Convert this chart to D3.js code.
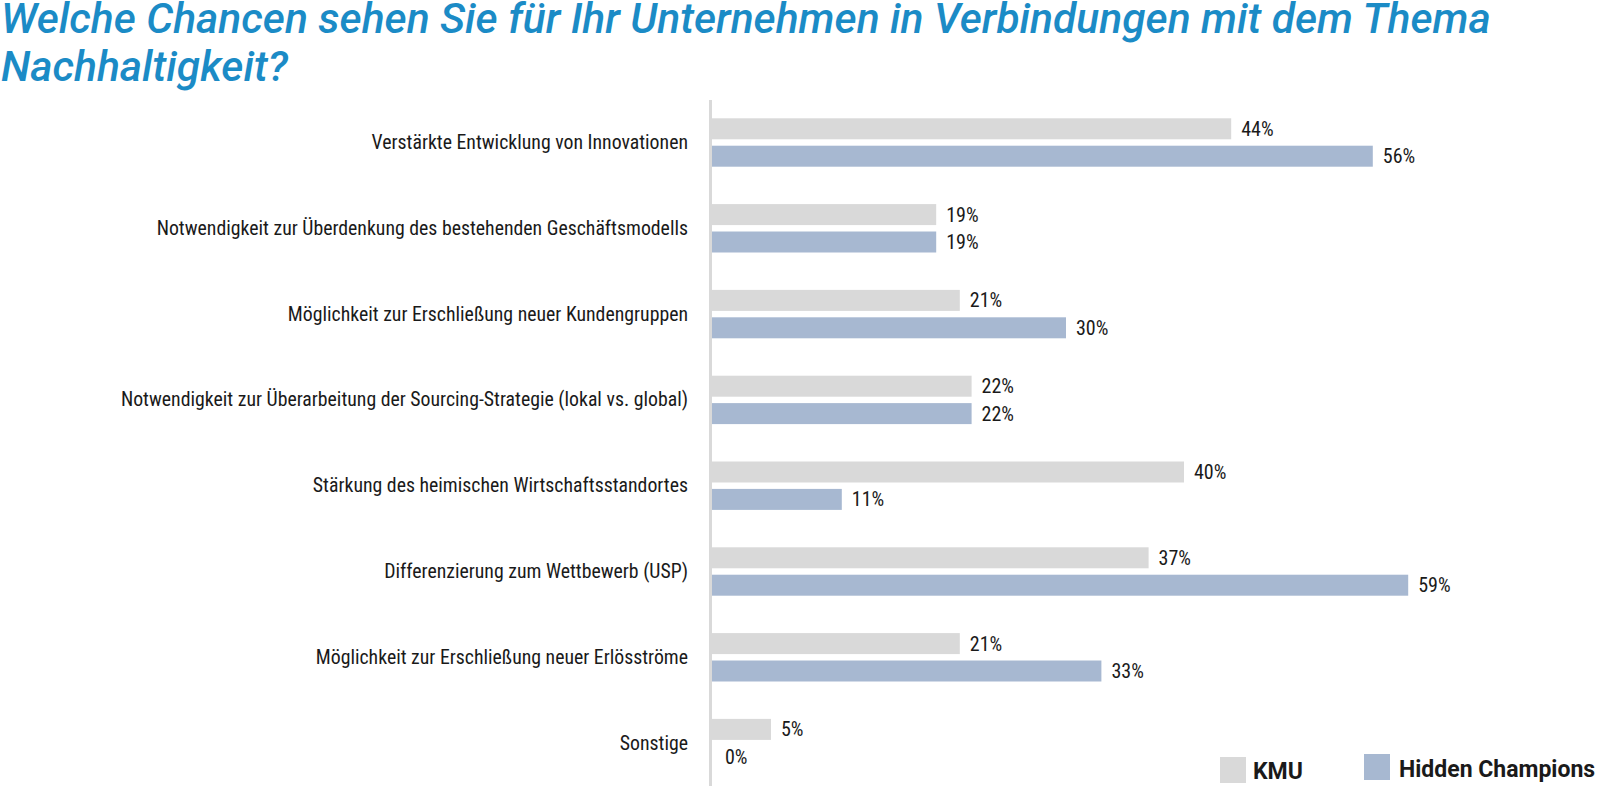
<!DOCTYPE html>
<html>
<head>
<meta charset="utf-8">
<script src="https://cdn.jsdelivr.net/npm/d3@7"></script>
<style>
html,body{margin:0;padding:0;background:#fff;}
svg{display:block;}
</style>
</head>
<body>
<svg id="chart" width="1600" height="786"></svg>
<script>
const titleLines = ["Welche Chancen sehen Sie für Ihr Unternehmen in Verbindungen mit dem Thema", "Nachhaltigkeit?"];
const categories = [
  "Verstärkte Entwicklung von Innovationen",
  "Notwendigkeit zur Überdenkung des bestehenden Geschäftsmodells",
  "Möglichkeit zur Erschließung neuer Kundengruppen",
  "Notwendigkeit zur Überarbeitung der Sourcing-Strategie (lokal vs. global)",
  "Stärkung des heimischen Wirtschaftsstandortes",
  "Differenzierung zum Wettbewerb (USP)",
  "Möglichkeit zur Erschließung neuer Erlösströme",
  "Sonstige"
];
const seriesNames = ["KMU", "Hidden Champions"];
const kmuValues = [44, 19, 21, 22, 40, 37, 21, 5];
const hcValues  = [56, 19, 30, 22, 11, 59, 33, 0];
const seriesColors = ["#d9d9d9", "#a7b8d1"];

const svg = d3.select("#chart");
const labelFont = "'Liberation Sans Narrow', 'Roboto Condensed', 'Arial Narrow', sans-serif";

// Title
const titles = svg.selectAll("text.title").data(titleLines).join("text")
  .attr("class", "title")
  .attr("x", 1)
  .attr("y", (d, i) => 33 + i * 48)
  .attr("fill", "#1b8bc6")
  .style("font-family", "Roboto, sans-serif")
  .style("font-style", "italic")
  .style("font-weight", 500)
  .style("font-size", "42px")
  .text(d => d);
// fit first line to the reference's width by font size
const t0 = titles.filter((d, i) => i === 0).node();
const len0 = t0.getComputedTextLength();
const fs = Math.min(44, 42 * 1490 / len0);
titles.style("font-size", fs + "px");

// Scales
const x = d3.scaleLinear().domain([0, 60]).range([712, 712 + 60 * 11.8]);
const y = d3.scaleBand().domain(categories)
  .range([118.3, 118.3 + 7 * 85.8 + 48.4])
  .paddingInner(1 - 48.4 / 85.8).paddingOuter(0);
const ySub = d3.scaleBand().domain(seriesNames).range([0, y.bandwidth()]).paddingInner(0.234);
const color = d3.scaleOrdinal().domain(seriesNames).range(seriesColors);

const rows = categories.map((c, i) => ({cat: c, vals: [
  {s: seriesNames[0], v: kmuValues[i]},
  {s: seriesNames[1], v: hcValues[i]}
]}));

// Axis line
svg.append("line")
  .attr("x1", x(0) - 1.5).attr("x2", x(0) - 1.5)
  .attr("y1", 100).attr("y2", 786)
  .attr("stroke", "#d9d9d9").attr("stroke-width", 3);

// Category labels
svg.selectAll("text.cat").data(categories).join("text")
  .attr("class", "cat")
  .attr("x", 688)
  .attr("y", d => y(d) + y.bandwidth() / 2 + 6.5)
  .attr("text-anchor", "end")
  .attr("fill", "#1a1a1a")
  .style("font-family", labelFont)
  .style("font-size", "19.8px")
  .text(d => d);

const g = svg.selectAll("g.row").data(rows).join("g")
  .attr("class", "row")
  .attr("transform", d => `translate(0,${y(d.cat)})`);

g.selectAll("rect").data(d => d.vals).join("rect")
  .attr("x", x(0))
  .attr("y", d => ySub(d.s))
  .attr("width", d => x(d.v) - x(0))
  .attr("height", ySub.bandwidth())
  .attr("fill", d => color(d.s));

g.selectAll("text.val").data(d => d.vals).join("text")
  .attr("class", "val")
  .attr("x", d => x(d.v) + (d.v === 0 ? 13 : 10))
  .attr("y", d => ySub(d.s) + ySub.bandwidth() / 2 + 7)
  .attr("fill", "#1a1a1a")
  .style("font-family", labelFont)
  .style("font-size", "20px")
  .text(d => d.v + "%");

// Legend
const legendX = [1220, 1364];
const legendY = [757, 754];
const leg = svg.selectAll("g.leg").data(seriesNames).join("g")
  .attr("class", "leg")
  .attr("transform", (d, i) => `translate(${legendX[i]},${legendY[i]})`);
leg.append("rect").attr("width", 26).attr("height", 26).attr("fill", d => color(d));
leg.append("text")
  .attr("x", (d, i) => i === 0 ? 33 : 35)
  .attr("y", (d, i) => i === 0 ? 21.5 : 23)
  .attr("fill", "#1a1a1a")
  .style("font-family", "Roboto, sans-serif")
  .style("font-weight", 700)
  .style("font-size", "23px")
  .text(d => d);
</script>
</body>
</html>
